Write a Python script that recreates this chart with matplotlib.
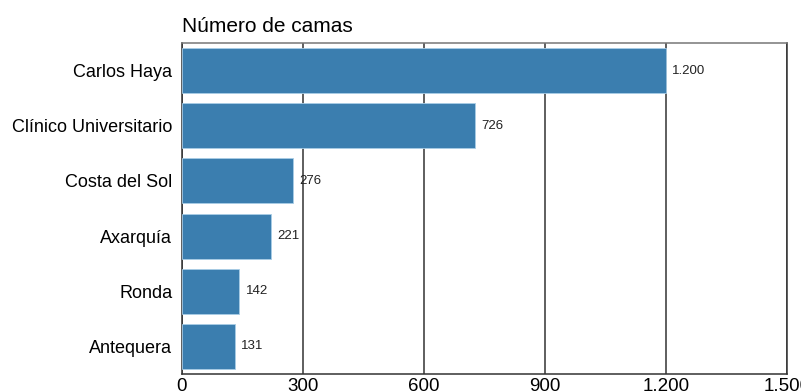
import matplotlib
matplotlib.use("Agg")
import matplotlib.pyplot as plt
from matplotlib.ticker import FuncFormatter

# ---------------------------------------------------------------------------
# Data
# ---------------------------------------------------------------------------
hospitals = [
    "Carlos Haya", "Clínico Universitario", "Costa del Sol",
    "Axarquía", "Ronda", "Antequera",
]
beds = [1200, 726, 276, 221, 142, 131]
x_ticks = [0, 300, 600, 900, 1200, 1500]

BAR_COLOR = "#3b7eaf"
LINE_COLOR = "#333333"


def es_thousands(v, pos=None):
    # Spanish style thousands separator: 1.200
    return f"{int(v):,}".replace(",", ".")


plt.rcParams["font.family"] = ["Liberation Sans", "DejaVu Sans"]

fig = plt.figure(figsize=(8.01, 3.92), dpi=100)
ax = fig.add_axes([0.2272, 0.0459, 0.7553, 0.8444])

ypos = list(range(len(hospitals)))
ax.barh(ypos, beds, height=0.815, color=BAR_COLOR,
        edgecolor="#a9cde6", linewidth=0.6, zorder=3)

for y, v in zip(ypos, beds):
    ax.annotate(es_thousands(v), xy=(v, y), xytext=(4.5, 0),
                textcoords="offset points", ha="left", va="center",
                fontsize=9.5, color="#222222", zorder=4)

ax.set_ylim(len(hospitals) - 0.5, -0.5)
ax.set_yticks(ypos)
ax.set_yticklabels(hospitals, fontsize=13)

ax.set_xlim(0, 1500)
ax.set_xticks(x_ticks)
ax.xaxis.set_major_formatter(FuncFormatter(es_thousands))
ax.tick_params(axis="x", labelsize=13.5, length=0, pad=3)
ax.tick_params(axis="y", length=0, pad=7)

ax.grid(axis="x", color=LINE_COLOR, linewidth=1.1, zorder=1)
for side in ["left", "bottom", "right"]:
    ax.spines[side].set_color(LINE_COLOR)
    ax.spines[side].set_linewidth(1.1)
ax.spines["top"].set_color("#777777")
ax.spines["top"].set_linewidth(1.1)

ax.set_title("Número de camas", loc="left", fontsize=15, pad=8)

fig.savefig("out.png", dpi=100)
